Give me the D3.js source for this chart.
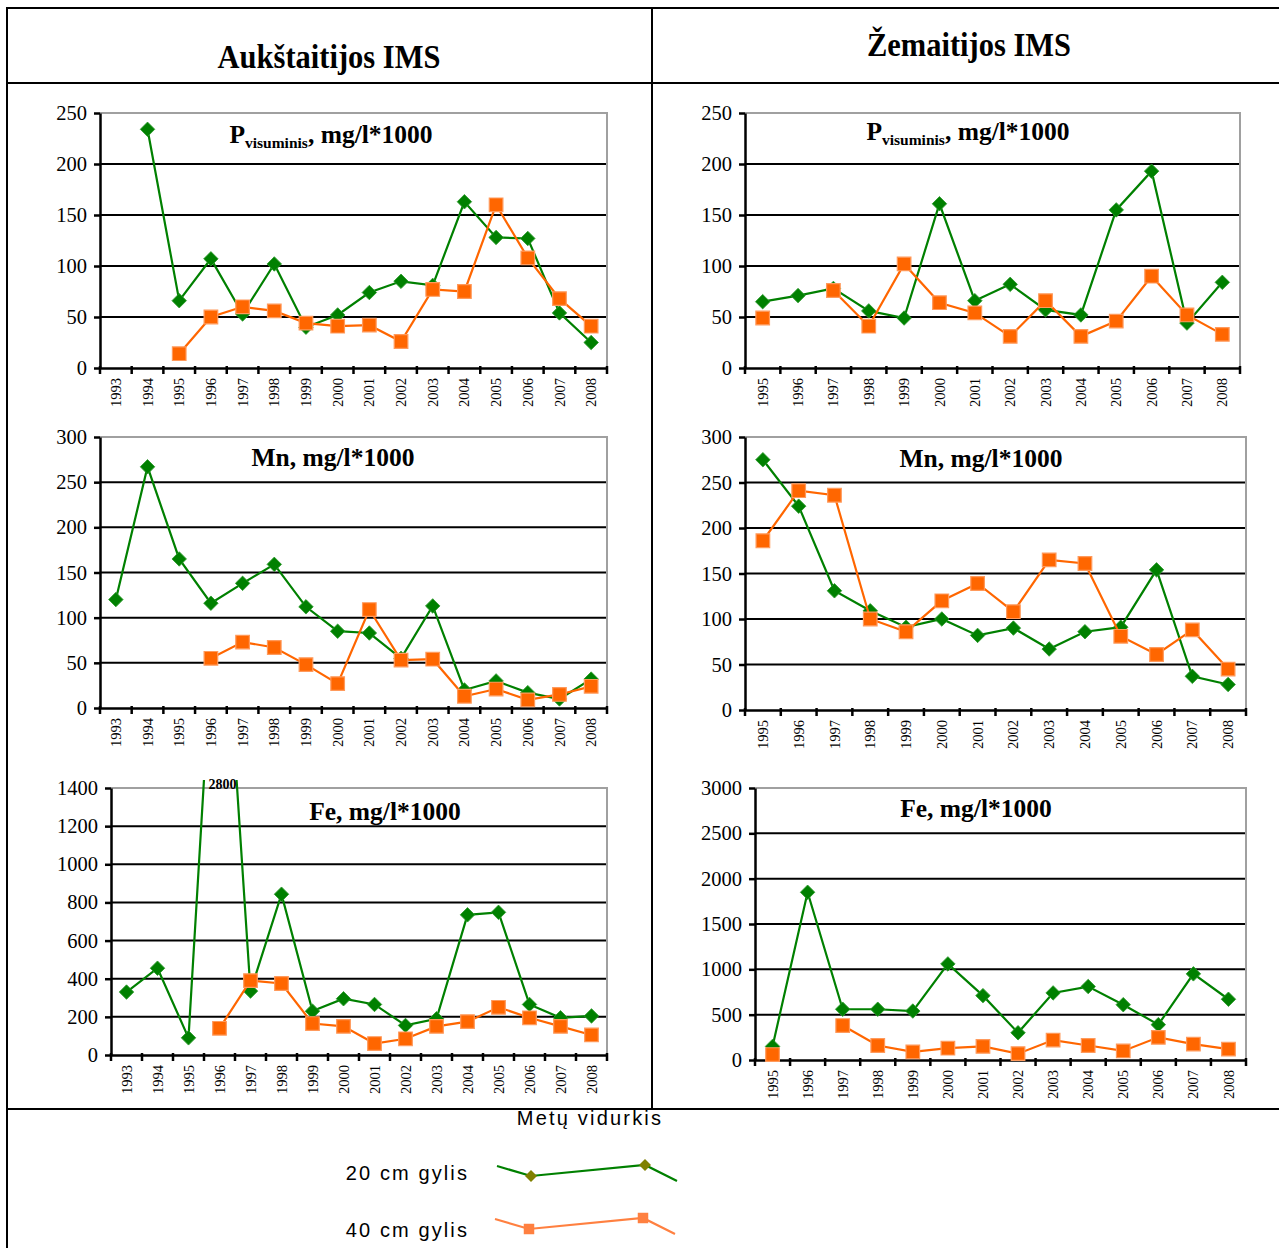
<!DOCTYPE html>
<html>
<head>
<meta charset="utf-8">
<script src="https://cdn.jsdelivr.net/npm/d3@7"></script>
<style>
  body { margin: 0; background: #fff; }
  svg { display: block; }
</style>
</head>
<body>
<svg id="chart" width="1279" height="1248"></svg>
<script>
// ---------- data ----------
const yearsA = ["1993", "1994", "1995", "1996", "1997", "1998", "1999", "2000",
                "2001", "2002", "2003", "2004", "2005", "2006", "2007", "2008"];
const yearsZ = ["1995", "1996", "1997", "1998", "1999", "2000", "2001",
                "2002", "2003", "2004", "2005", "2006", "2007", "2008"];

// P visuminis, Aukstaitija
const pA20 = [null, 234, 66, 107, 53, 102, 40, 52, 74, 85, 81, 163, 128, 127, 54, 25];
const pA40 = [null, null, 14, 50, 60, 56, 44, 41, 42, 26, 77, 75, 160, 108, 68, 41];
// P visuminis, Zemaitija
const pZ20 = [65, 71, 78, 56, 49, 161, 66, 82, 57, 52, 155, 193, 44, 84];
const pZ40 = [49, null, 76, 41, 102, 64, 54, 31, 66, 31, 46, 90, 52, 33];
// Mn
const mnA20 = [120, 267, 165, 116, 138, 159, 112, 85, 83, 55, 113, 20, 30, 17, 10, 32];
const mnA40 = [null, null, null, 55, 73, 67, 48, 27, 109, 53, 54, 13, 21, 9, 15, 24];
const mnZ20 = [275, 224, 131, 109, 91, 100, 82, 90, 67, 86, 91, 154, 37, 28];
const mnZ40 = [186, 241, 236, 100, 86, 120, 139, 108, 165, 161, 81, 61, 88, 45];
// Fe
const feA20 = [330, 455, 90, 2800, 335, 843, 230, 295, 265, 155, 190, 735, 748, 265, 195, 205];
const feA40 = [null, null, null, 140, 390, 375, 165, 150, 60, 85, 150, 175, 250, 195, 150, 105];
const feZ20 = [150, 1850, 560, 560, 540, 1060, 710, 300, 740, 810, 610, 390, 950, 670];
const feZ40 = [60, null, 380, 160, 90, 130, 150, 70, 220, 160, 100, 250, 175, 120];

const ticksP = [0, 50, 100, 150, 200, 250];
const ticksMn = [0, 50, 100, 150, 200, 250, 300];
const ticksFeA = [0, 200, 400, 600, 800, 1000, 1200, 1400];
const ticksFeZ = [0, 500, 1000, 1500, 2000, 2500, 3000];

const stations = ["Aukštaitijos IMS", "Žemaitijos IMS"];
const seriesNames = ["20 cm gylis", "40 cm gylis"];
const legendTitle = "Metų vidurkis";

// ---------- look ----------
const GREEN = "#008000";
const ORANGE = "#FF6600";
const SERIF = "'Liberation Serif', 'Times New Roman', serif";
const SANS = "'Liberation Sans', Arial, sans-serif";

const svg = d3.select("#chart");

const panels = [
    { years: yearsA, s20: pA20, s40: pA40, ticks: ticksP, main: "P", sub: "visuminis",
      box: { l: 100, r: 607, t: 113, b: 368 }, title: [331, 143] },
    { years: yearsZ, s20: pZ20, s40: pZ40, ticks: ticksP, main: "P", sub: "visuminis",
      box: { l: 745, r: 1240, t: 113, b: 368 }, title: [968, 140] },
    { years: yearsA, s20: mnA20, s40: mnA40, ticks: ticksMn, main: "Mn", sub: null,
      box: { l: 100, r: 607, t: 437, b: 708 }, title: [333, 466] },
    { years: yearsZ, s20: mnZ20, s40: mnZ40, ticks: ticksMn, main: "Mn", sub: null,
      box: { l: 745, r: 1246, t: 437, b: 710 }, title: [981, 467] },
    { years: yearsA, s20: feA20, s40: feA40, ticks: ticksFeA, main: "Fe", sub: null,
      box: { l: 111, r: 607, t: 788, b: 1055 }, title: [385, 820] },
    { years: yearsZ, s20: feZ20, s40: feZ40, ticks: ticksFeZ, main: "Fe", sub: null,
      box: { l: 755, r: 1246, t: 788, b: 1060 }, title: [976, 817] }
];

// table frame
const frame = svg.append("g").attr("stroke", "#000").attr("stroke-width", 2);
frame.append("line").attr("x1", 7).attr("x2", 1279).attr("y1", 8).attr("y2", 8);
frame.append("line").attr("x1", 7).attr("x2", 1279).attr("y1", 83).attr("y2", 83);
frame.append("line").attr("x1", 7).attr("x2", 1279).attr("y1", 1109).attr("y2", 1109);
frame.append("line").attr("x1", 7).attr("x2", 7).attr("y1", 7).attr("y2", 1248);
frame.append("line").attr("x1", 652).attr("x2", 652).attr("y1", 7).attr("y2", 1109);

svg.append("text").attr("transform", "translate(329,68) scale(1,1.12)").attr("text-anchor", "middle")
    .attr("font-family", SERIF).attr("font-weight", "bold").attr("font-size", 30.5)
    .text(stations[0]);
svg.append("text").attr("transform", "translate(969,56) scale(1,1.12)").attr("text-anchor", "middle")
    .attr("font-family", SERIF).attr("font-weight", "bold").attr("font-size", 30.5)
    .text(stations[1]);

panels.forEach((p, i) => drawPanel(p, i));

function drawPanel(p, idx) {
    const box = p.box;
    const yMax = p.ticks[p.ticks.length - 1];
    const g = svg.append("g");

    const x = d3.scaleBand().domain(p.years).range([box.l, box.r]);
    const y = d3.scaleLinear().domain([0, yMax]).range([box.b, box.t]);
    const cx = d => x(d) + x.bandwidth() / 2;

    // gridlines
    g.selectAll("line.grid")
        .data(p.ticks.filter(t => t > 0 && t < yMax))
        .enter().append("line")
        .attr("x1", box.l).attr("x2", box.r)
        .attr("y1", d => y(d)).attr("y2", d => y(d))
        .attr("stroke", "#000").attr("stroke-width", 2);

    // plot area border (top + right)
    g.append("path")
        .attr("d", `M${box.l},${y(yMax)}H${box.r}V${box.b}`)
        .attr("fill", "none").attr("stroke", "#a0a0a0").attr("stroke-width", 2);

    // y axis
    const yAxis = g.append("g")
        .attr("transform", `translate(${box.l},0)`)
        .call(d3.axisLeft(y).tickValues(p.ticks).tickFormat(d3.format("d"))
            .tickSize(6).tickSizeOuter(0).tickPadding(7));
    yAxis.attr("font-family", SERIF).attr("font-size", 20.5);
    yAxis.selectAll("line").attr("stroke-width", 2.5);
    yAxis.select(".domain").attr("stroke-width", 2.5);

    // x axis: labels at category centres, ticks at category boundaries
    const xAxis = g.append("g")
        .attr("transform", `translate(0,${box.b})`)
        .call(d3.axisBottom(x).tickSize(0).tickSizeOuter(0));
    xAxis.attr("font-family", SERIF).attr("font-size", 14.5);
    xAxis.select(".domain").attr("stroke-width", 2.5);
    xAxis.selectAll("text")
        .attr("transform", "rotate(-90)")
        .attr("text-anchor", "end")
        .attr("x", -10).attr("y", 0).attr("dy", "0.35em");
    const bounds = p.years.map(d => x(d)).concat([box.r]);
    xAxis.selectAll("line.bound").data(bounds).enter().append("line")
        .attr("class", "bound")
        .attr("x1", d => d).attr("x2", d => d)
        .attr("y1", -2).attr("y2", 6)
        .attr("stroke", "#000").attr("stroke-width", 2.5);

    // clip so the off-scale value is cut at the top
    const clipId = "clip" + idx;
    svg.append("clipPath").attr("id", clipId).append("rect")
        .attr("x", box.l - 12).attr("y", box.t - 8)
        .attr("width", box.r - box.l + 24).attr("height", box.b - box.t + 20);

    const plot = g.append("g").attr("clip-path", `url(#${clipId})`);

    const line = d3.line()
        .defined(d => d.v != null)
        .x(d => cx(d.year))
        .y(d => y(d.v));

    const rows20 = p.years.map((yr, k) => ({ year: yr, v: p.s20[k] }));
    const rows40 = p.years.map((yr, k) => ({ year: yr, v: p.s40[k] }));

    // 20 cm series
    plot.append("path").datum(rows20)
        .attr("d", line).attr("fill", "none")
        .attr("stroke", GREEN).attr("stroke-width", 2.2);
    plot.selectAll("path.dia").data(rows20.filter(d => d.v != null && d.v <= yMax))
        .enter().append("path").attr("class", "dia")
        .attr("d", d3.symbol(d3.symbolSquare, 105))
        .attr("transform", d => `translate(${cx(d.year)},${y(d.v)}) rotate(45)`)
        .attr("fill", GREEN).attr("stroke", "#2c9a2c").attr("stroke-width", 0.8);

    // 40 cm series
    plot.append("path").datum(rows40)
        .attr("d", line).attr("fill", "none")
        .attr("stroke", ORANGE).attr("stroke-width", 2.2);
    plot.selectAll("path.sq").data(rows40.filter(d => d.v != null && d.v <= yMax))
        .enter().append("path").attr("class", "sq")
        .attr("d", d3.symbol(d3.symbolSquare, 185))
        .attr("transform", d => `translate(${cx(d.year)},${y(d.v)})`)
        .attr("fill", ORANGE).attr("stroke", "#ff9a5c").attr("stroke-width", 1.2);

    // label for values beyond the axis
    g.selectAll("text.over").data(rows20.filter(d => d.v != null && d.v > yMax))
        .enter().append("text").attr("class", "over")
        .attr("x", d => cx(d.year) + 3).attr("y", box.t + 1)
        .attr("text-anchor", "middle")
        .attr("font-family", SERIF).attr("font-weight", "bold").attr("font-size", 14)
        .text(d => d.v);

    // title
    const t = g.append("text")
        .attr("x", p.title[0]).attr("y", p.title[1])
        .attr("text-anchor", "middle")
        .attr("font-family", SERIF).attr("font-weight", "bold").attr("font-size", 25.5);
    t.append("tspan").text(p.main);
    if (p.sub) {
        t.append("tspan").attr("font-size", 15.5).attr("dy", 5).text(p.sub);
        t.append("tspan").attr("dy", -5).text(", mg/l*1000");
    } else {
        t.append("tspan").text(", mg/l*1000");
    }
}

// ---------- legend ----------
const legend = svg.append("g").attr("font-family", SANS);
legend.append("text").attr("x", 590).attr("y", 1125).attr("text-anchor", "middle")
    .attr("font-size", 20).attr("letter-spacing", 2.2).text(legendTitle);

const wiggle = [[0, 0], [34, 10], [148, -1], [180, 15]];
const legendItems = [
    { name: seriesNames[0], line: GREEN, mark: "#808000", sym: "dia", x0: 497, y0: 1166, ty: 1180 },
    { name: seriesNames[1], line: "#ff8040", mark: "#ff8040", sym: "sq", x0: 495, y0: 1219, ty: 1237 }
];
legendItems.forEach(it => {
    legend.append("text").attr("x", 469).attr("y", it.ty).attr("text-anchor", "end")
        .attr("font-size", 20).attr("letter-spacing", 2.1).text(it.name);
    const pts = wiggle.map(w => [it.x0 + w[0], it.y0 + w[1]]);
    legend.append("path").attr("d", d3.line()(pts))
        .attr("fill", "none").attr("stroke", it.line).attr("stroke-width", 2.2);
    legend.selectAll(null).data(pts.slice(1, 3)).enter().append("path")
        .attr("d", d3.symbol(d3.symbolSquare, it.sym === "dia" ? 72 : 110))
        .attr("transform", d => `translate(${d[0]},${d[1]})` + (it.sym === "dia" ? " rotate(45)" : ""))
        .attr("fill", it.mark);
});
</script>
</body>
</html>
